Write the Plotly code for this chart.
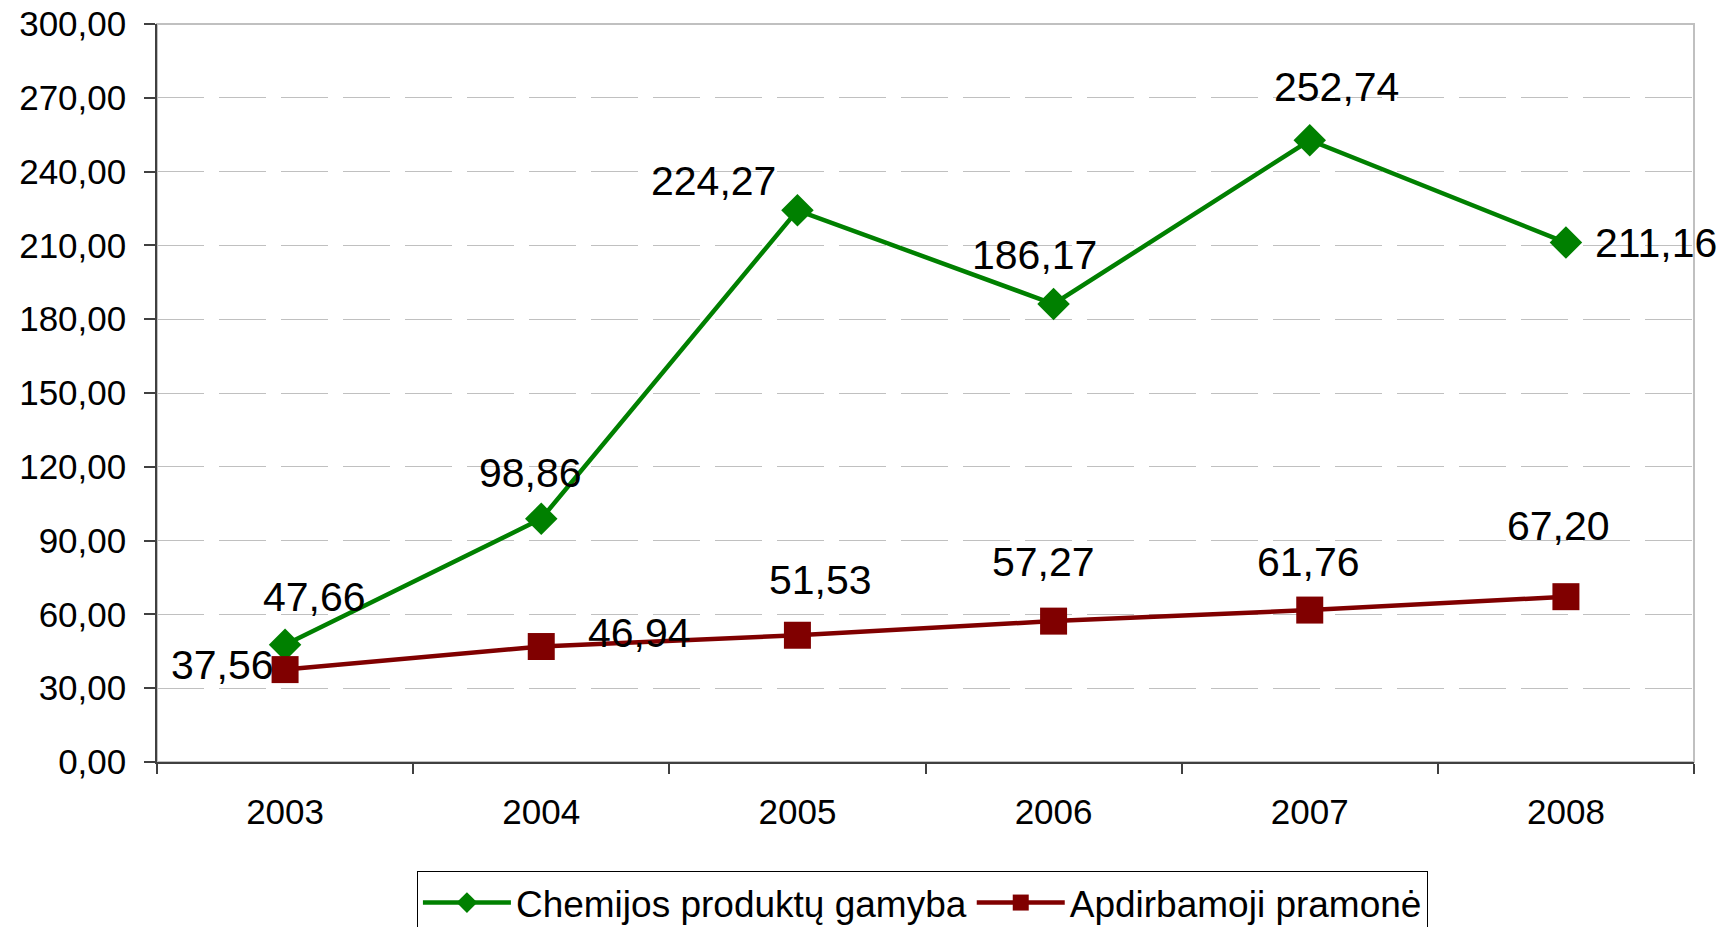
import plotly.graph_objects as go

years = ["2003", "2004", "2005", "2006", "2007", "2008"]
chem = [47.66, 98.86, 224.27, 186.17, 252.74, 211.16]
apdirb = [37.56, 46.94, 51.53, 57.27, 61.76, 67.20]
series_names = ["Chemijos produktų gamyba", "Apdirbamoji pramonė"]

# label offsets (px) for data labels
chem_shift = [(29, 48), (-11, 46), (-84, 29), (-19, 49), (27, 53), (90, 0)]
apd_shift = [(-63, 5), (98, 14), (23, 55), (-10, 59), (-1, 48), (-7, 71)]

GREEN = "#008000"
RED = "#800000"
FONT = "Liberation Sans, Arial, sans-serif"

fig = go.Figure()
fig.add_trace(go.Scatter(
    x=years, y=chem, name=series_names[0], mode="lines+markers",
    line=dict(color=GREEN, width=4.5),
    marker=dict(symbol="diamond", size=25, color=GREEN),
))
fig.add_trace(go.Scatter(
    x=years, y=apdirb, name=series_names[1], mode="lines+markers",
    line=dict(color=RED, width=4.5),
    marker=dict(symbol="square", size=27, color=RED),
))

def fmt(v):
    return f"{v:.2f}".replace(".", ",")

annotations = []
for vals, shifts in ((chem, chem_shift), (apdirb, apd_shift)):
    for i, (v, (dx, dy)) in enumerate(zip(vals, shifts)):
        annotations.append(dict(
            x=i, y=v, xref="x", yref="y", text=fmt(v), showarrow=False,
            xshift=dx, yshift=dy, font=dict(size=41, color="black", family=FONT),
        ))

fig.update_layout(
    width=1733, height=927,
    margin=dict(l=149, r=47, t=16, b=173, autoexpand=False),
    paper_bgcolor="white", plot_bgcolor="white",
    separators=", ",
    font=dict(family=FONT, color="black"),
    annotations=annotations,
    showlegend=True,
    legend=dict(
        orientation="h", x=0.498, xanchor="center", y=-0.1477, yanchor="top",
        font=dict(size=37, color="black", family=FONT),
        bordercolor="#000000", borderwidth=1, bgcolor="white",
        itemwidth=88, tracegroupgap=0,
    ),
    shapes=[dict(type="rect", xref="paper", yref="paper", x0=0, x1=1, y0=0, y1=1,
                 line=dict(color="#c0c0c0", width=2), layer="below")],
)

fig.update_xaxes(
    type="category", range=[-0.5, 5.5], showgrid=False, automargin=False,
    showline=True, linecolor="#404040", linewidth=1.5,
    ticks="outside", tickson="boundaries", ticklen=10, tickcolor="#404040", tickwidth=1.5,
    tickfont=dict(size=35, color="black", family=FONT), ticklabelstandoff=18,
    ticklabeloverflow="allow", zeroline=False,
)
fig.update_yaxes(
    range=[0, 300], dtick=30, tick0=0, tickformat=".2f", automargin=False,
    showgrid=True, gridcolor="#c0c0c0", gridwidth=1, griddash="47px,15px",
    showline=True, linecolor="#404040", linewidth=1.5,
    ticks="outside", ticklen=11, tickcolor="#404040", tickwidth=1.5,
    tickfont=dict(size=35, color="black", family=FONT), ticklabelstandoff=11,
    ticklabeloverflow="allow", zeroline=False,
)

fig.write_html("out.html")
